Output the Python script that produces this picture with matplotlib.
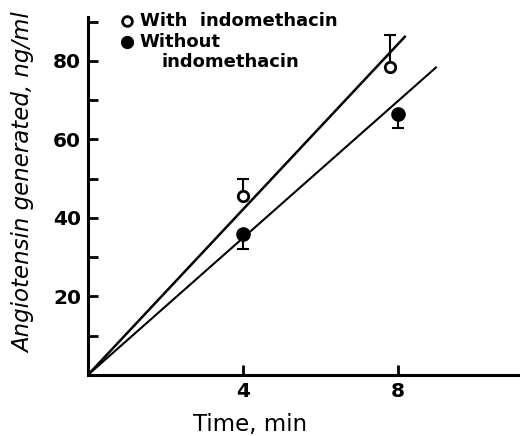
import matplotlib
matplotlib.use('Agg')
import matplotlib.pyplot as plt

# Mean values
time_with = [4, 7.8]
with_indo = [45.5, 78.5]
with_err = [4.5, 8.0]

time_without = [4, 8]
without_indo = [36.0, 66.5]
without_err = [4.0, 3.5]

# Fitted lines through the origin (endpoints as drawn)
fit_with_x = [0, 8.2]
fit_with_y = [0, 86.4]
fit_without_x = [0, 9.0]
fit_without_y = [0, 78.5]

x_ticks = [4, 8]
y_ticks = [20, 40, 60, 80]
y_minor = [10, 30, 50, 70, 90]

plt.rcParams['font.family'] = ['DejaVu Sans']

fig = plt.figure(figsize=(5.2, 4.36), dpi=100)
ax = fig.add_axes([0.169, 0.140, 0.831, 0.821])

ax.plot(fit_with_x, fit_with_y, color='black', lw=1.8, solid_capstyle='butt')
ax.plot(fit_without_x, fit_without_y, color='black', lw=1.5, solid_capstyle='butt')

# error bars: open circles upward, filled circles downward
ax.errorbar(time_with, with_indo, yerr=[[0, 0], with_err], fmt='none',
            ecolor='black', elinewidth=1.5, capsize=4.5, capthick=1.5)
ax.errorbar(time_without, without_indo, yerr=[without_err, [0, 0]], fmt='none',
            ecolor='black', elinewidth=1.5, capsize=4.5, capthick=1.5)

ax.plot(time_with, with_indo, 'o', ms=7.5, mfc='white', mec='black', mew=2, zorder=5)
ax.plot(time_without, without_indo, 'o', ms=9.5, mfc='black', mec='black', zorder=5)

ax.set_xlim(0, 11.15)
ax.set_ylim(0, 91.2)
ax.spines['top'].set_visible(False)
ax.spines['right'].set_visible(False)
for s in ['left', 'bottom']:
    ax.spines[s].set_linewidth(2.2)

ax.set_xticks(x_ticks)
ax.set_xticklabels([str(t) for t in x_ticks], fontweight='bold', fontsize=14.5)
ax.set_yticks(y_ticks)
ax.set_yticklabels([str(t) for t in y_ticks], fontweight='bold', fontsize=14.5)
ax.set_yticks(y_minor, minor=True)
ax.tick_params(axis='both', which='both', direction='in', length=7, width=2, pad=5)

ax.set_xlabel('Time, min', fontsize=16.5)
ax.xaxis.set_label_coords(0.375, -0.105)
fig.text(0.046, 0.58, 'Angiotensin generated, ng/ml', fontsize=16.5,
         fontstyle='italic', rotation=90, ha='center', va='center')

# legend drawn as text block
ax.plot([1.0], [90.2], 'o', ms=7, mfc='white', mec='black', mew=2, clip_on=False)
ax.plot([1.0], [84.8], 'o', ms=8.5, mfc='black', mec='black', clip_on=False)
ax.text(1.34, 90.2, 'With  indomethacin', fontsize=13, fontweight='bold', va='center')
ax.text(1.34, 84.8, 'Without', fontsize=13, fontweight='bold', va='center')
ax.text(1.91, 79.7, 'indomethacin', fontsize=13, fontweight='bold', va='center')

fig.savefig('out.png', dpi=100)
